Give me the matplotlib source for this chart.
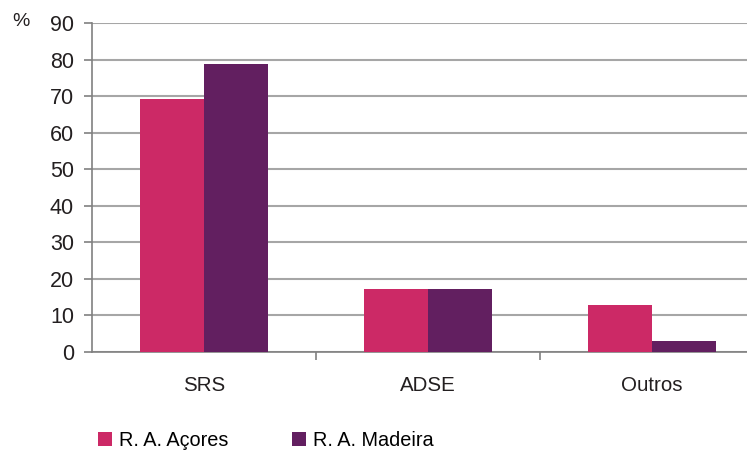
import matplotlib.pyplot as plt
import numpy as np
from matplotlib.patches import Patch

plt.rcParams["font.family"] = ["Liberation Sans", "DejaVu Sans"]

categories = ["SRS", "ADSE", "Outros"]
series_names = ["R. A. Açores", "R. A. Madeira"]
acores = [69.3, 17.3, 12.9]
madeira = [78.8, 17.3, 3.0]
y_ticks = [0, 10, 20, 30, 40, 50, 60, 70, 80, 90]

colors = ["#cc2966", "#621f60"]
grid_color = "#a6a6a6"
spine_color = "#808080"
text_color = "#231f20"

W, H = 747, 450
fig = plt.figure(figsize=(W / 100, H / 100), dpi=100)
# axes spans 92px..764px horizontally (right side is clipped by the figure edge)
ax = fig.add_axes([92 / W, (H - 352) / H, 672 / W, 329 / H])

x = np.arange(len(categories))
width = 64 / 224
ax.bar(x - width / 2, acores, width, color=colors[0], zorder=3)
ax.bar(x + width / 2, madeira, width, color=colors[1], zorder=3)

ax.set_xlim(-0.5, len(categories) - 0.5)
ax.set_ylim(0, 90)
ax.set_yticks(y_ticks)
ax.set_yticklabels([str(v) for v in y_ticks], fontsize=15.5, color=text_color)
ax.yaxis.grid(True, color=grid_color, linewidth=1.5, zorder=0)
ax.set_axisbelow(True)

# category labels at centres, tick marks between groups
ax.set_xticks(x)
ax.set_xticklabels(categories, fontsize=14.8, color=text_color)
ax.tick_params(axis="x", length=0, pad=17)
ax.set_xticks([0.5, 1.5], minor=True)
ax.tick_params(axis="x", which="minor", length=6, color=spine_color, width=1.2)
ax.tick_params(axis="y", length=6, color=spine_color, width=1.2, pad=7)

for side in ["top", "right"]:
    ax.spines[side].set_visible(False)
ax.spines["left"].set_color(spine_color)
ax.spines["left"].set_linewidth(1.2)
ax.spines["bottom"].set_color(spine_color)
ax.spines["bottom"].set_linewidth(1.2)

fig.text(12 / W, (H - 22) / H, "%", fontsize=14, color=text_color, va="center")

handles = [Patch(facecolor=c, edgecolor="none") for c in colors]
fig.legend(
    handles,
    series_names,
    loc="center left",
    bbox_to_anchor=(98 / W, (H - 440) / H),
    ncol=2,
    frameon=False,
    fontsize=14.3,
    handlelength=0.7,
    handleheight=0.7,
    handletextpad=0.35,
    columnspacing=3.2,
    borderaxespad=0,
    borderpad=0,
)

fig.savefig("out.png", dpi=100)
